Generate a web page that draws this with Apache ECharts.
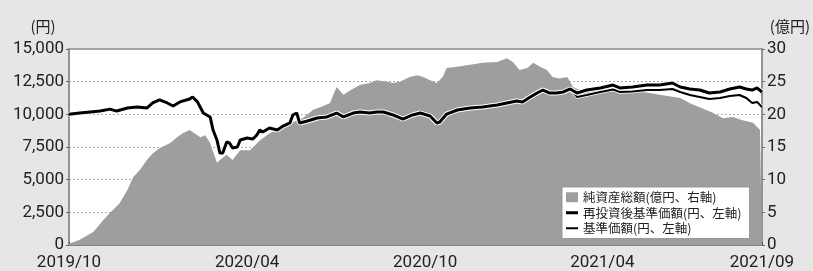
<!DOCTYPE html>
<html>
<head>
<meta charset="utf-8">
<script src="https://cdn.jsdelivr.net/npm/echarts@6/dist/echarts.min.js"></script>
<style>
  html, body { margin: 0; padding: 0; background: #e6e6e6; }
  #main { width: 813px; height: 271px; }
</style>
</head>
<body>
<div id="main"></div>
<script>
// 凡例の名前
const seriesNames = ['純資産総額(億円、右軸)', '再投資後基準価額(円、左軸)', '基準価額(円、左軸)']

// 純資産総額(億円)
const assetDates = [
  '2019-10-01', '2019-10-12', '2019-10-26', '2019-11-05', '2019-11-12', '2019-11-22', '2019-11-30',
  '2019-12-06', '2019-12-13', '2019-12-20', '2019-12-26', '2020-01-02', '2020-01-13', '2020-01-20',
  '2020-01-26', '2020-02-02', '2020-02-05', '2020-02-13', '2020-02-18', '2020-02-23', '2020-03-01',
  '2020-03-04', '2020-03-11', '2020-03-17', '2020-03-25', '2020-04-04', '2020-04-14', '2020-04-24',
  '2020-05-08', '2020-05-18', '2020-05-28', '2020-06-08', '2020-06-15', '2020-06-25', '2020-07-02',
  '2020-07-09', '2020-07-16', '2020-07-26', '2020-08-05', '2020-08-12', '2020-08-23', '2020-08-29',
  '2020-09-05', '2020-09-15', '2020-09-23', '2020-09-29', '2020-10-06', '2020-10-13', '2020-10-19',
  '2020-10-23', '2020-11-03', '2020-11-16', '2020-11-29', '2020-12-14', '2020-12-24', '2020-12-30',
  '2021-01-06', '2021-01-14', '2021-01-20', '2021-01-27', '2021-02-03', '2021-02-09', '2021-02-16',
  '2021-02-24', '2021-03-02', '2021-03-09', '2021-03-19', '2021-03-30', '2021-04-12', '2021-04-26',
  '2021-05-10', '2021-05-30', '2021-06-20', '2021-06-30', '2021-07-10', '2021-07-24', '2021-08-03',
  '2021-08-13', '2021-08-23', '2021-09-03', '2021-09-10', '2021-09-12'
]
const assetValues = [
  0.2, 0.8, 2.0, 3.8, 4.9, 6.4, 8.4,
  10.4, 11.5, 13.0, 14.0, 14.8, 15.6, 16.5,
  17.1, 17.6, 17.3, 16.5, 16.8, 15.6, 12.6,
  13.0, 13.8, 13.0, 14.5, 14.5, 16.0, 17.1,
  18.0, 18.8, 19.4, 20.7, 21.1, 21.7, 24.2,
  23.0, 23.7, 24.5, 24.8, 25.2, 25.0, 24.8,
  25.0, 25.7, 26.0, 25.7, 25.2, 24.8, 25.7,
  27.1, 27.3, 27.6, 27.9, 28.0, 28.6, 28.0,
  26.8, 27.1, 27.9, 27.3, 26.8, 25.7, 25.5,
  25.7, 24.2, 23.7, 24.0, 23.7, 24.0, 23.7,
  23.5, 23.0, 22.5, 21.7, 21.1, 20.2, 19.4,
  19.6, 19.1, 18.7, 17.6, 17.9
]

// 基準価額(円)
const lineDates = [
  '2019-10-01', '2019-10-12', '2019-10-23', '2019-11-02', '2019-11-12', '2019-11-19', '2019-11-30',
  '2019-12-10', '2019-12-20', '2019-12-26', '2020-01-02', '2020-01-10', '2020-01-16', '2020-01-23',
  '2020-02-02', '2020-02-05', '2020-02-10', '2020-02-16', '2020-02-23', '2020-02-26', '2020-03-01',
  '2020-03-04', '2020-03-07', '2020-03-11', '2020-03-14', '2020-03-17', '2020-03-22', '2020-03-25',
  '2020-04-01', '2020-04-07', '2020-04-11', '2020-04-14', '2020-04-17', '2020-04-24', '2020-05-02',
  '2020-05-08', '2020-05-15', '2020-05-18', '2020-05-22', '2020-05-25', '2020-06-02', '2020-06-12',
  '2020-06-22', '2020-07-02', '2020-07-09', '2020-07-19', '2020-07-26', '2020-08-05', '2020-08-12',
  '2020-08-19', '2020-08-29', '2020-09-08', '2020-09-18', '2020-09-26', '2020-10-06', '2020-10-13',
  '2020-10-16', '2020-10-23', '2020-11-03', '2020-11-16', '2020-11-29', '2020-12-14', '2020-12-24',
  '2021-01-03', '2021-01-09', '2021-01-17', '2021-01-24', '2021-01-30', '2021-02-06', '2021-02-13',
  '2021-02-20', '2021-02-27', '2021-03-06', '2021-03-16', '2021-03-30', '2021-04-12', '2021-04-19',
  '2021-05-02', '2021-05-17', '2021-05-30', '2021-06-12', '2021-06-20', '2021-06-30', '2021-07-10',
  '2021-07-20', '2021-07-31', '2021-08-10', '2021-08-20', '2021-08-27', '2021-09-02', '2021-09-07',
  '2021-09-12'
]
const reinvestValues = [
  10000, 10100, 10180, 10250, 10400, 10250, 10480,
  10560, 10480, 10870, 11100, 10870, 10640, 10950,
  11170, 11330, 10950, 10100, 9800, 8800, 8040,
  7040, 7040, 7880, 7800, 7420, 7500, 8040,
  8190, 8110, 8420, 8800, 8650, 8950, 8800,
  9100, 9340, 9950, 10100, 9340, 9490, 9720,
  9800, 10100, 9800, 10100, 10180, 10100, 10180,
  10180, 9950, 9640, 9950, 10100, 9870, 9340,
  9410, 10020, 10330, 10480, 10560, 10710, 10870,
  11020, 10950, 11330, 11630, 11860, 11630, 11630,
  11710, 11940, 11630, 11860, 12020, 12240, 12020,
  12090, 12240, 12240, 12400, 12090, 11940, 11860,
  11630, 11710, 11940, 12090, 11940, 11860, 12020,
  11710
]
const navValues = [
  10000, 10100, 10180, 10250, 10400, 10250, 10480,
  10560, 10480, 10870, 11100, 10870, 10640, 10950,
  11170, 11330, 10950, 10100, 9800, 8800, 8040,
  7040, 7040, 7880, 7800, 7420, 7500, 8040,
  8190, 8110, 8420, 8800, 8650, 8950, 8800,
  9100, 9340, 9950, 10100, 9340, 9490, 9720,
  9800, 10100, 9800, 10100, 10180, 10100, 10180,
  10180, 9950, 9640, 9950, 10100, 9870, 9340,
  9410, 10020, 10330, 10480, 10560, 10710, 10870,
  11020, 10950, 11330, 11630, 11860, 11630, 11630,
  11710, 11940, 11330, 11480, 11710, 11900, 11710,
  11750, 11860, 11860, 11940, 11710, 11480, 11330,
  11170, 11250, 11400, 11480, 11250, 10870, 10950,
  10560
]

// 横軸の目盛り
const xLabelDates = ['2019-10-01', '2020-04-01', '2020-10-01', '2021-04-01', '2021-09-12']
const xMin = '2019-10-01'
const xMax = '2021-09-12'

const toTime = d => echarts.time.parse(d).getTime()
const pair = (dates, values) => dates.map((d, i) => [toTime(d), values[i]])
const tickValues = xLabelDates.map(toTime)

// 凡例の線アイコン(上下に透明な余白付き)
const thickIcon = 'path://M0,0L0.01,0L0.01,0.01ZM0,3.4L12,3.4L12,6.6L0,6.6ZM12,10L11.99,10L11.99,9.99Z'
const thinIcon = 'path://M0,0L0.01,0L0.01,0.01ZM0,4L12,4L12,6L0,6ZM12,10L11.99,10L11.99,9.99Z'

const axisFont = 'Roboto, sans-serif'
const jpFont = '"Noto Sans CJK JP", sans-serif'

const myEcharts = echarts.init(document.getElementById('main'))
const option = {
  animation: false,
  backgroundColor: '#e6e6e6',
  grid: {
    left: 69,
    right: 51,
    top: 49,
    bottom: 26,
    show: true,
    backgroundColor: '#fff',
    borderColor: '#8c8c8c',
    borderWidth: 1.5
  },
  legend: {
    orient: 'vertical',
    left: 562,
    top: 187,
    backgroundColor: '#fff',
    borderColor: '#999',
    borderWidth: 1,
    borderRadius: 0,
    padding: [4, 8, 4, 4],
    itemGap: 3,
    itemWidth: 12,
    itemHeight: 10,
    textStyle: { fontSize: 12.5, color: '#222', fontFamily: jpFont },
    data: [
      { name: seriesNames[0], icon: 'rect' },
      { name: seriesNames[1], icon: thickIcon },
      { name: seriesNames[2], icon: thinIcon }
    ]
  },
  xAxis: {
    type: 'value',
    min: toTime(xMin),
    max: toTime(xMax),
    axisLine: { show: true, lineStyle: { color: '#777', width: 1.5 } },
    axisTick: {
      show: true,
      inside: true,
      length: 3,
      customValues: tickValues,
      lineStyle: { color: '#555' }
    },
    axisLabel: {
      customValues: tickValues,
      margin: 9,
      fontSize: 17,
      color: '#222',
      fontFamily: axisFont,
      formatter: v => echarts.time.format(v, '{yyyy}/{MM}', false)
    },
    splitLine: { show: false }
  },
  yAxis: [
    {
      type: 'value',
      min: 0,
      max: 15000,
      interval: 2500,
      name: '(円)',
      nameLocation: 'end',
      nameGap: 15,
      nameTextStyle: { fontSize: 15, color: '#222', fontFamily: jpFont, align: 'center', padding: [0, 52, 0, 0] },
      axisLine: { show: true, lineStyle: { color: '#8c8c8c', width: 1.5 } },
      axisTick: { show: true, inside: false, length: 3, lineStyle: { color: '#666' } },
      axisLabel: { margin: 5, fontSize: 17, color: '#222', fontFamily: axisFont },
      splitLine: { show: true, lineStyle: { color: '#aaa', type: [2, 2], width: 1 } }
    },
    {
      type: 'value',
      min: 0,
      max: 30,
      interval: 5,
      position: 'right',
      name: '(億円)',
      nameLocation: 'end',
      nameGap: 15,
      nameTextStyle: { fontSize: 15, color: '#222', fontFamily: jpFont, align: 'center', padding: [0, 0, 0, 56] },
      axisLine: { show: true, lineStyle: { color: '#8c8c8c', width: 1.5 } },
      axisTick: { show: true, inside: false, length: 3, lineStyle: { color: '#666' } },
      axisLabel: { margin: 5, fontSize: 17, color: '#222', fontFamily: axisFont },
      splitLine: { show: false }
    }
  ],
  series: [
    {
      name: seriesNames[0],
      type: 'line',
      yAxisIndex: 1,
      symbol: 'none',
      color: '#9e9e9e',
      lineStyle: { width: 0 },
      areaStyle: { color: '#9e9e9e', opacity: 1 },
      data: pair(assetDates, assetValues)
    },
    // 白いふち
    {
      name: 'haloNav',
      type: 'line',
      symbol: 'none',
      color: '#fff',
      lineStyle: { width: 3.5, color: '#fff' },
      data: pair(lineDates, navValues)
    },
    {
      name: seriesNames[2],
      type: 'line',
      symbol: 'none',
      color: '#000',
      lineStyle: { width: 2, color: '#000' },
      data: pair(lineDates, navValues)
    },
    {
      name: 'haloReinvest',
      type: 'line',
      symbol: 'none',
      color: '#fff',
      lineStyle: { width: 5, color: '#fff' },
      data: pair(lineDates, reinvestValues)
    },
    {
      name: seriesNames[1],
      type: 'line',
      symbol: 'none',
      color: '#000',
      lineStyle: { width: 3, color: '#000' },
      data: pair(lineDates, reinvestValues)
    }
  ]
}
myEcharts.setOption(option)
</script>
</body>
</html>
